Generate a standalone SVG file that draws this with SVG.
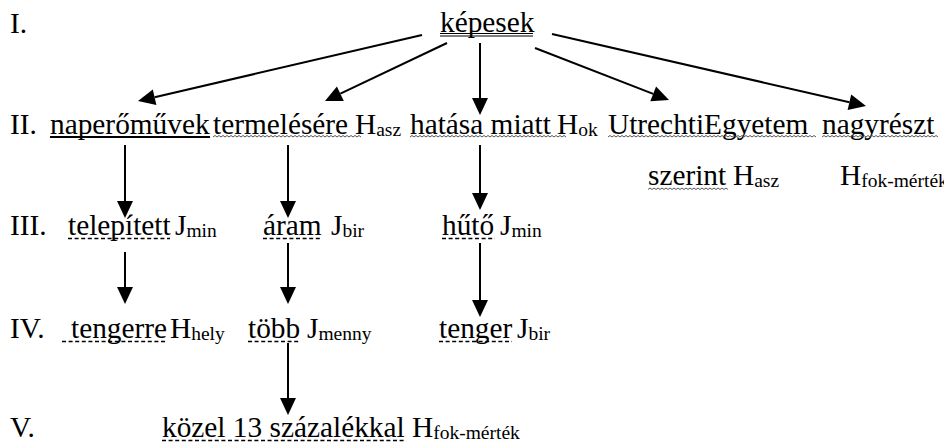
<svg xmlns="http://www.w3.org/2000/svg" width="944" height="444" viewBox="0 0 944 444">
<rect width="944" height="444" fill="#fff"/>

<g id="levels">
<text font-family="Liberation Serif" font-size="29.33" x="10" y="33">I.</text>
<text font-family="Liberation Serif" font-size="29.33" x="10" y="134">II.</text>
<text font-family="Liberation Serif" font-size="29.33" x="10" y="235">III.</text>
<text font-family="Liberation Serif" font-size="29.33" x="10" y="338">IV.</text>
<text font-family="Liberation Serif" font-size="29.33" x="10" y="437">V.</text>
</g>

<g id="n-kepesek">
<text font-family="Liberation Serif" font-size="29.33" x="440" y="32">képesek</text>
<path d="M440,33.5H533M440,36H533" stroke="#000" stroke-width="1"/>
</g>

<g id="n-naperomuvek">
<text font-family="Liberation Serif" font-size="29.33" x="50" y="134">naperőművek</text>
<path d="M50,137H210" stroke="#000" stroke-width="2"/>
</g>

<g id="n-termelesere">
<text font-family="Liberation Serif" font-size="29.33" x="213" y="134">termelésére</text>
<text font-family="Liberation Serif" font-size="29.33" x="355" y="134">H<tspan font-size="19.5" dy="2">asz</tspan></text>
<path fill="none" stroke="#444" stroke-width="0.9" d="M213,137 l2,-1.5 2,1.5 2,-1.5 2,1.5 2,-1.5 2,1.5 2,-1.5 2,1.5 2,-1.5 2,1.5 2,-1.5 2,1.5 2,-1.5 2,1.5 2,-1.5 2,1.5 2,-1.5 2,1.5 2,-1.5 2,1.5 2,-1.5 2,1.5 2,-1.5 2,1.5 2,-1.5 2,1.5 2,-1.5 2,1.5 2,-1.5 2,1.5 2,-1.5 2,1.5 2,-1.5 2,1.5 2,-1.5 2,1.5 2,-1.5 2,1.5 2,-1.5 2,1.5 2,-1.5 2,1.5 2,-1.5 2,1.5 2,-1.5 2,1.5 2,-1.5 2,1.5 2,-1.5 2,1.5 2,-1.5 2,1.5 2,-1.5 2,1.5 2,-1.5 2,1.5 2,-1.5 2,1.5 2,-1.5 2,1.5 2,-1.5 2,1.5 2,-1.5 2,1.5 2,-1.5 2,1.5 2,-1.5 2,1.5 2,-1.5 2,1.5 2,-1.5 2,1.5 2,-1.5 2,1.5"/>
</g>

<g id="n-hatasa">
<text font-family="Liberation Serif" font-size="29.33" x="410" y="134">hatása miatt</text>
<text font-family="Liberation Serif" font-size="29.33" x="557" y="134">H<tspan font-size="19.5" dy="2">ok</tspan></text>
<path fill="none" stroke="#444" stroke-width="0.9" d="M410,137 l2,-1.5 2,1.5 2,-1.5 2,1.5 2,-1.5 2,1.5 2,-1.5 2,1.5 2,-1.5 2,1.5 2,-1.5 2,1.5 2,-1.5 2,1.5 2,-1.5 2,1.5 2,-1.5 2,1.5 2,-1.5 2,1.5 2,-1.5 2,1.5 2,-1.5 2,1.5 2,-1.5 2,1.5 2,-1.5 2,1.5 2,-1.5 2,1.5 2,-1.5 2,1.5 2,-1.5 2,1.5 2,-1.5 2,1.5 2,-1.5 2,1.5 2,-1.5 2,1.5 2,-1.5 2,1.5 2,-1.5 2,1.5 2,-1.5 2,1.5 2,-1.5 2,1.5 2,-1.5 2,1.5 2,-1.5 2,1.5 2,-1.5 2,1.5 2,-1.5 2,1.5 2,-1.5 2,1.5 2,-1.5 2,1.5 2,-1.5 2,1.5 2,-1.5 2,1.5 2,-1.5 2,1.5 2,-1.5 2,1.5 2,-1.5 2,1.5 2,-1.5 2,1.5 2,-1.5 2,1.5 2,-1.5 2,1.5 2,-1.5 2,1.5"/>
</g>

<g id="n-utrecht">
<text font-family="Liberation Serif" font-size="29.33" x="608" y="134">UtrechtiEgyetem</text>
<path fill="none" stroke="#444" stroke-width="0.9" d="M608,137 l2,-1.5 2,1.5 2,-1.5 2,1.5 2,-1.5 2,1.5 2,-1.5 2,1.5 2,-1.5 2,1.5 2,-1.5 2,1.5 2,-1.5 2,1.5 2,-1.5 2,1.5 2,-1.5 2,1.5 2,-1.5 2,1.5 2,-1.5 2,1.5 2,-1.5 2,1.5 2,-1.5 2,1.5 2,-1.5 2,1.5 2,-1.5 2,1.5 2,-1.5 2,1.5 2,-1.5 2,1.5 2,-1.5 2,1.5 2,-1.5 2,1.5 2,-1.5 2,1.5 2,-1.5 2,1.5 2,-1.5 2,1.5 2,-1.5 2,1.5 2,-1.5 2,1.5 2,-1.5 2,1.5 2,-1.5 2,1.5 2,-1.5 2,1.5 2,-1.5 2,1.5 2,-1.5 2,1.5 2,-1.5 2,1.5 2,-1.5 2,1.5 2,-1.5 2,1.5 2,-1.5 2,1.5 2,-1.5 2,1.5 2,-1.5 2,1.5 2,-1.5 2,1.5 2,-1.5 2,1.5 2,-1.5 2,1.5 2,-1.5 2,1.5 2,-1.5 2,1.5 2,-1.5 2,1.5 2,-1.5 2,1.5 2,-1.5 2,1.5 2,-1.5 2,1.5 2,-1.5 2,1.5 2,-1.5 2,1.5 2,-1.5 2,1.5 2,-1.5 2,1.5 2,-1.5 2,1.5 2,-1.5 2,1.5 2,-1.5 2,1.5 2,-1.5 2,1.5"/>
<text font-family="Liberation Serif" font-size="29.33" x="648" y="185">szerint</text>
<text font-family="Liberation Serif" font-size="29.33" x="733" y="185">H<tspan font-size="19.5" dy="2">asz</tspan></text>
<path fill="none" stroke="#444" stroke-width="0.9" d="M648,189.5 l2,-1.5 2,1.5 2,-1.5 2,1.5 2,-1.5 2,1.5 2,-1.5 2,1.5 2,-1.5 2,1.5 2,-1.5 2,1.5 2,-1.5 2,1.5 2,-1.5 2,1.5 2,-1.5 2,1.5 2,-1.5 2,1.5 2,-1.5 2,1.5 2,-1.5 2,1.5 2,-1.5 2,1.5 2,-1.5 2,1.5 2,-1.5 2,1.5 2,-1.5 2,1.5 2,-1.5 2,1.5 2,-1.5 2,1.5 2,-1.5 2,1.5 2,-1.5 2,1.5"/>
</g>

<g id="n-nagyreszt">
<text font-family="Liberation Serif" font-size="29.33" x="822" y="134">nagyrészt</text>
<path fill="none" stroke="#444" stroke-width="0.9" d="M822,137 l2,-1.5 2,1.5 2,-1.5 2,1.5 2,-1.5 2,1.5 2,-1.5 2,1.5 2,-1.5 2,1.5 2,-1.5 2,1.5 2,-1.5 2,1.5 2,-1.5 2,1.5 2,-1.5 2,1.5 2,-1.5 2,1.5 2,-1.5 2,1.5 2,-1.5 2,1.5 2,-1.5 2,1.5 2,-1.5 2,1.5 2,-1.5 2,1.5 2,-1.5 2,1.5 2,-1.5 2,1.5 2,-1.5 2,1.5 2,-1.5 2,1.5 2,-1.5 2,1.5 2,-1.5 2,1.5 2,-1.5 2,1.5 2,-1.5 2,1.5 2,-1.5 2,1.5 2,-1.5 2,1.5 2,-1.5 2,1.5 2,-1.5 2,1.5 2,-1.5 2,1.5 2,-1.5 2,1.5"/>
<text font-family="Liberation Serif" font-size="29.33" x="840" y="185">H<tspan font-size="19.5" dy="2">fok-mérték</tspan></text>
</g>

<g id="n-telepitett">
<text font-family="Liberation Serif" font-size="29.33" x="68" y="235">telepített</text>
<text font-family="Liberation Serif" font-size="29.33" x="175" y="235">J<tspan font-size="19.5" dy="2">min</tspan></text>
<path d="M68,238.5H170" stroke="#000" stroke-width="1.6" stroke-dasharray="4 2.6"/>
</g>

<g id="n-aram">
<text font-family="Liberation Serif" font-size="29.33" x="263" y="235">áram</text>
<text font-family="Liberation Serif" font-size="29.33" x="331" y="235">J<tspan font-size="19.5" dy="2">bir</tspan></text>
<path d="M263,238.5H321" stroke="#000" stroke-width="1.6" stroke-dasharray="4 2.6"/>
</g>

<g id="n-huto">
<text font-family="Liberation Serif" font-size="29.33" x="442" y="235">hűtő</text>
<text font-family="Liberation Serif" font-size="29.33" x="500" y="235">J<tspan font-size="19.5" dy="2">min</tspan></text>
<path d="M442,238.5H495" stroke="#000" stroke-width="1.6" stroke-dasharray="4 2.6"/>
</g>

<g id="n-tengerre">
<text font-family="Liberation Serif" font-size="29.33" x="71" y="338">tengerre</text>
<text font-family="Liberation Serif" font-size="29.33" x="170" y="338">H<tspan font-size="19.5" dy="2">hely</tspan></text>
<path d="M62,341.5H167" stroke="#000" stroke-width="1.6" stroke-dasharray="4 2.6"/>
</g>

<g id="n-tobb">
<text font-family="Liberation Serif" font-size="29.33" x="248" y="338">több</text>
<text font-family="Liberation Serif" font-size="29.33" x="307" y="338">J<tspan font-size="19.5" dy="2">menny</tspan></text>
<path d="M248,341.5H299" stroke="#000" stroke-width="1.6" stroke-dasharray="4 2.6"/>
</g>

<g id="n-tenger">
<text font-family="Liberation Serif" font-size="29.33" x="439" y="338">tenger</text>
<text font-family="Liberation Serif" font-size="29.33" x="517" y="338">J<tspan font-size="19.5" dy="2">bir</tspan></text>
<path d="M439,341.5H512" stroke="#000" stroke-width="1.6" stroke-dasharray="4 2.6"/>
</g>

<g id="n-kozel">
<text font-family="Liberation Serif" font-size="29.33" x="162" y="437">közel 13 százalékkal</text>
<text font-family="Liberation Serif" font-size="29.33" x="412" y="437">H<tspan font-size="19.5" dy="2">fok-mérték</tspan></text>
<path d="M162,440.5H405" stroke="#000" stroke-width="1.6" stroke-dasharray="4 2.6"/>
</g>

<g id="connectors">
<g stroke="#000" stroke-width="2">
<line x1="422" y1="35" x2="154.6" y2="97.2"/>
<line x1="447" y1="43" x2="340.4" y2="93.7"/>
<line x1="480" y1="43" x2="480" y2="98"/>
<line x1="535" y1="48" x2="653.2" y2="93.9"/>
<line x1="552" y1="34" x2="849.4" y2="102.2"/>
<line x1="125" y1="145" x2="125" y2="201"/>
<line x1="288" y1="145" x2="288" y2="201"/>
<line x1="480" y1="145" x2="480" y2="193"/>
<line x1="125" y1="252" x2="125" y2="287"/>
<line x1="288" y1="243" x2="288" y2="287"/>
<line x1="480" y1="243" x2="480" y2="300"/>
<line x1="288" y1="343" x2="288" y2="398"/>
</g>
<g fill="#000">
<polygon points="138,101 152.8,89.4 156.4,104.9"/>
<polygon points="325,101 336.9,86.5 343.8,100.9"/>
<polygon points="480,115 472,98 488,98"/>
<polygon points="669,100 650.3,101.3 656.1,86.4"/>
<polygon points="866,106 847.6,110 851.2,94.4"/>
<polygon points="125,218 117,201 133,201"/>
<polygon points="288,218 280,201 296,201"/>
<polygon points="480,210 472,193 488,193"/>
<polygon points="125,304 117,287 133,287"/>
<polygon points="288,304 280,287 296,287"/>
<polygon points="480,317 472,300 488,300"/>
<polygon points="288,415 280,398 296,398"/>
</g>
</g>
</svg>
